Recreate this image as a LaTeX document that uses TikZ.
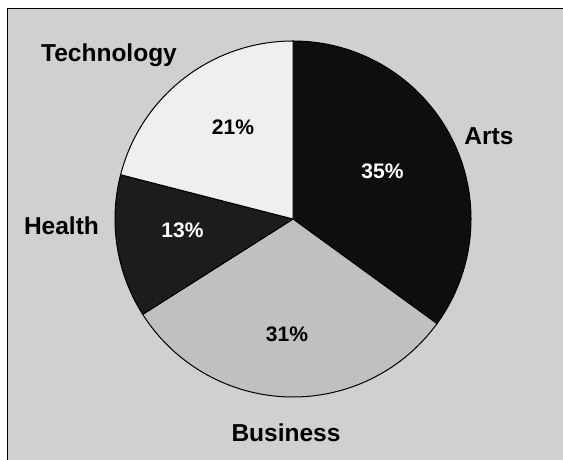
\documentclass[tikz,border=0pt]{standalone}
\usepackage{fontspec}
\setmainfont{Liberation Sans}
\usepackage{tikz}

\definecolor{bggray}{RGB}{208,208,208}
\definecolor{artsgray}{RGB}{14,14,14}
\definecolor{busgray}{RGB}{192,192,192}
\definecolor{healthgray}{RGB}{28,28,28}
\definecolor{techgray}{RGB}{239,239,239}

\tikzset{
  catlabel/.style={anchor=base, inner sep=0pt, font=\fontsize{24.6}{30}\selectfont\bfseries},
  pctlabel/.style={anchor=base, inner sep=0pt, font=\fontsize{21.1}{26}\selectfont\bfseries},
  slice/.style={draw=black, line width=1bp}
}

\begin{document}
\begin{tikzpicture}[x=1bp, y=1bp]

   \fill[white] (0,0) rectangle (563,460);
   \useasboundingbox (0,0) rectangle (563,460);
   \fill[bggray] (7.5,0) rectangle (563,451.5);
   \draw[line width=1.6bp] (7.5,0) -- (7.5,451.5) -- (563,451.5);

   % pie, centre and radius
   \coordinate (c) at (293,241);
   \filldraw[slice, fill=artsgray] (c) -- ++(90:178) arc[start angle=90, end angle=-36, radius=178] -- cycle;
   \filldraw[slice, fill=busgray] (c) -- ++(-36:178) arc[start angle=-36, end angle=-147.6, radius=178] -- cycle;
   \filldraw[slice, fill=healthgray] (c) -- ++(-147.6:178) arc[start angle=-147.6, end angle=-194.4, radius=178] -- cycle;
   \filldraw[slice, fill=techgray] (c) -- ++(165.6:178) arc[start angle=165.6, end angle=90, radius=178] -- cycle;

   \node[pctlabel, white] (artspct) at (382.5,281) {35\%};
   \node[pctlabel] (buspct) at (287,118) {31\%};
   \node[pctlabel, white] (healthpct) at (182.5,222) {13\%};
   \node[pctlabel] (techpct) at (233,325) {21\%};

   \node[catlabel] (arts) at (489,315) {Arts};
   \node[catlabel] (business) at (286,18) {Business};
   \node[catlabel] (health) at (61.5,225) {Health};
   \node[catlabel] (tech) at (109,398) {Technology};
  \end{tikzpicture}
\end{document}
